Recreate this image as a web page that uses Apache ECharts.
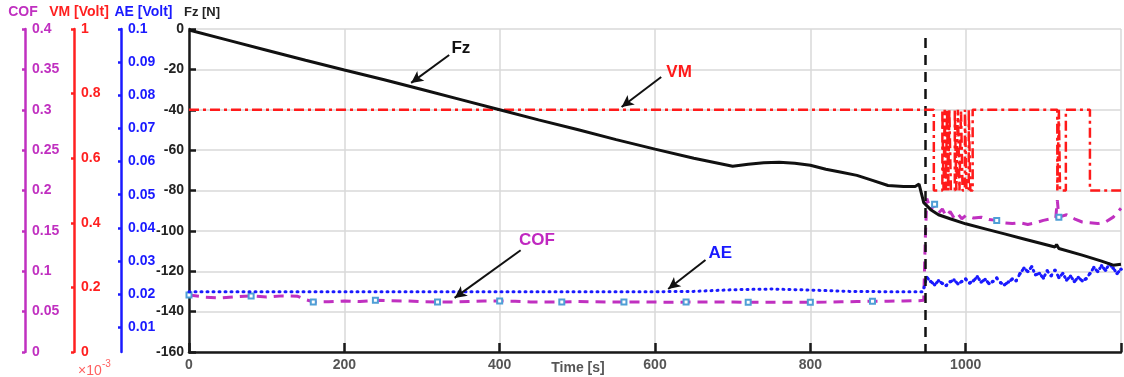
<!DOCTYPE html>
<html>
<head>
<meta charset="utf-8">
<script src="https://cdn.jsdelivr.net/npm/echarts@6/dist/echarts.min.js"></script>
<style>
html,body{margin:0;padding:0;background:#fff;}
#chart{width:1124px;height:377px;}
</style>
</head>
<body>
<div id="chart"></div>
<script>
// ---------- data (time [s], value) ----------
const xTicks = [0, 200, 400, 600, 800, 1000];
const fzTicks = [0, -20, -40, -60, -80, -100, -120, -140, -160];
const aeTicks = [0.01, 0.02, 0.03, 0.04, 0.05, 0.06, 0.07, 0.08, 0.09, 0.1];
const vmTicks = [0, 0.2, 0.4, 0.6, 0.8, 1];
const cofTicks = [0, 0.05, 0.1, 0.15, 0.2, 0.25, 0.3, 0.35, 0.4];

const fzData = [[0,-0.5],[50,-5.5],[100,-10.5],[150,-15.5],[200,-20.3],[250,-25],[300,-30],[350,-35],[400,-40],
  [450,-45],[500,-49.8],[550,-54.8],[600,-59.5],[650,-64],[700,-68],[720,-67],[740,-66.3],[760,-66],[780,-66.5],
  [800,-67.5],[820,-69.5],[840,-71],[860,-72.5],[880,-75],[900,-77.5],[920,-78],[935,-78],[940,-76.8],[946,-86],
  [955,-89.5],[965,-92],[980,-94],[1000,-96.5],[1025,-99],[1050,-101.5],[1075,-104],[1100,-106.5],[1115,-108],
  [1117,-106.8],[1120,-108.7],[1150,-112],[1175,-115],[1190,-117],[1200,-116.5]];

const vmData = [[0,0.75],[959,0.5],[970,0.75],[971.5,0.5],[973,0.75],[974.5,0.5],[976,0.75],[977.5,0.5],[979,0.75],
  [981,0.5],[986,0.75],[988,0.5],[990,0.75],[992,0.5],[994,0.75],[996,0.5],[999,0.75],[1001,0.5],[1004,0.75],
  [1006,0.5],[1009,0.75],[1118,0.5],[1120,0.75],[1121.5,0.5],[1129,0.75],[1160,0.5],[1200,0.5]];

const aeData = [[0,0.0207],[50,0.0207],[100,0.0207],[150,0.0207],[200,0.0207],[250,0.0207],[300,0.0207],[350,0.0207],
  [400,0.0207],[450,0.0207],[500,0.0207],[550,0.0207],[600,0.0207],[650,0.0208],[700,0.0213],[750,0.0215],[800,0.0212],
  [850,0.0208],[900,0.0207],[945,0.0207],[948,0.0235],
  [950,0.0250],[955,0.0238],[960,0.0228],[965,0.0240],[970,0.0232],[975,0.0226],[980,0.0237],[985,0.0242],[990,0.0231],
  [995,0.0238],[1000,0.0245],[1005,0.0233],[1010,0.0240],[1015,0.0252],[1020,0.0236],[1025,0.0244],[1030,0.0232],
  [1035,0.0238],[1040,0.0248],[1045,0.0234],[1050,0.0228],[1055,0.0236],[1060,0.0245],[1065,0.0240],[1070,0.0262],
  [1075,0.0278],[1080,0.0268],[1085,0.0282],[1090,0.0258],[1095,0.0262],[1100,0.0248],[1105,0.0270],[1110,0.0255],
  [1115,0.0272],[1120,0.0250],[1125,0.0262],[1130,0.0242],[1135,0.0254],[1140,0.0238],[1145,0.0250],[1150,0.0240],
  [1155,0.0246],[1160,0.0262],[1165,0.0280],[1170,0.0268],[1175,0.0285],[1180,0.0272],[1185,0.0290],[1190,0.0278],
  [1195,0.0262],[1200,0.0275]];

const cofData = [[0,0.0705],[20,0.068],[40,0.067],[60,0.0685],[80,0.0695],[100,0.068],[120,0.0695],[140,0.069],
  [150,0.065],[160,0.062],[180,0.0622],[200,0.0632],[220,0.0625],[240,0.064],[260,0.0635],[280,0.0632],[300,0.0622],
  [320,0.062],[340,0.0618],[360,0.0626],[380,0.0632],[400,0.0632],[420,0.0628],[440,0.062],[460,0.0618],[480,0.062],
  [500,0.0625],[520,0.0622],[540,0.062],[560,0.0618],[580,0.062],[600,0.0618],[620,0.0616],[640,0.0618],[660,0.0618],
  [680,0.062],[700,0.0618],[720,0.0616],[740,0.0615],[760,0.0616],[780,0.0615],[800,0.0615],[820,0.0618],[840,0.0622],
  [860,0.0625],[880,0.0628],[900,0.063],[920,0.0632],[940,0.0635],[946,0.064],
  [948,0.14],[950,0.19],[955,0.176],[960,0.183],[965,0.172],[970,0.177],[975,0.168],[980,0.174],[985,0.166],[990,0.171],
  [995,0.165],[1000,0.169],[1010,0.166],[1020,0.167],[1030,0.164],[1040,0.163],[1050,0.16],[1060,0.159],[1070,0.16],
  [1080,0.158],[1090,0.16],[1100,0.163],[1110,0.165],[1116,0.166],[1118,0.188],[1120,0.167],[1130,0.17],[1140,0.165],
  [1150,0.161],[1160,0.16],[1170,0.159],[1180,0.161],[1190,0.167],[1200,0.178]];

const eventTime = 948;
const markerEvery = 80;

// annotations: [label, textPos, arrowTail, arrowHead, colour] in (time, Fz) coordinates
const notes = [
  ['Fz',  [350,-9.4],   [335,-12.9],  [286,-26.7],  '#111111'],
  ['VM',  [631,-21.3],  [608,-23.8],  [557,-38.6],  '#ff1a1a'],
  ['COF', [448,-104.5], [427,-109.6], [342,-133.2], '#c028c0'],
  ['AE',  [684,-111],   [665,-114.4], [617,-128.8], '#1a1aff']
];

// ---------- styling ----------
const FONT = '"Liberation Sans", Arial, sans-serif';
const C_COF = '#c030c0', C_VM = '#ff1a1a', C_AE = '#1a1aff', C_FZ = '#111111';
const GRID = '#d8d8d8';

function sideAxis(color, offset, min, max, ticks, interval) {
  const ax = {
    type: 'value', position: 'left', offset: offset, min: min, max: max,
    axisLine: {show: true, onZero: false, lineStyle: {color: color, width: 2.5}},
    axisTick: {show: true, inside: false, length: 3, lineStyle: {color: color, width: 2.5}},
    axisLabel: {inside: true, margin: 7, color: color, fontWeight: 'bold', fontSize: 14, fontFamily: FONT},
    splitLine: {show: false}
  };
  if (interval) { ax.interval = interval; }
  else { ax.axisLabel.customValues = ticks; ax.axisTick.customValues = ticks; }
  return ax;
}

const chart = echarts.init(document.getElementById('chart'), null, {renderer: 'canvas'});

const option = {
  animation: false,
  backgroundColor: '#ffffff',
  grid: {left: 189, right: 0, top: 29, bottom: 25},
  xAxis: {
    type: 'value', min: 0, max: 1200, interval: 200,
    axisLine: {show: true, onZero: false, lineStyle: {color: '#1a1a1a', width: 2.5}},
    axisTick: {show: true, inside: true, length: 9, lineStyle: {color: '#1a1a1a', width: 2.5}},
    axisLabel: {color: '#555', fontWeight: 'bold', fontSize: 14, fontFamily: FONT, margin: 6,
      formatter: v => (xTicks.indexOf(v) >= 0 ? String(v) : '')},
    splitLine: {show: true, lineStyle: {color: GRID, width: 1.5}}
  },
  yAxis: [
    {
      type: 'value', position: 'left', offset: 0, min: -160, max: 0, interval: 20,
      axisLine: {show: true, onZero: false, lineStyle: {color: '#1a1a1a', width: 2.5}},
      axisTick: {show: true, inside: true, length: 7, lineStyle: {color: '#1a1a1a', width: 2.5}},
      axisLabel: {color: '#222', fontWeight: 'bold', fontSize: 14, fontFamily: FONT, margin: 5,
        formatter: v => (fzTicks.indexOf(v) >= 0 ? String(v) : '')},
      splitLine: {show: true, lineStyle: {color: GRID, width: 1.5}}
    },
    sideAxis(C_AE, 68, 0.0025, 0.1, aeTicks, null),
    sideAxis('#ff2020', 115, 0, 1, vmTicks, 0.2),
    sideAxis(C_COF, 164, 0, 0.4, cofTicks, 0.05)
  ],
  series: [
    {
      name: 'COF', type: 'line', yAxisIndex: 3, data: cofData,
      symbol: 'emptyRect', showAllSymbol: true,
      symbolSize: (v) => (v[0] % markerEvery === 0 && v[0] < 1200 ? 5 : 0),
      itemStyle: {color: '#4f9fd6', borderWidth: 1},
      lineStyle: {color: C_COF, width: 3, type: [10, 7]},
      z: 3
    },
    {
      name: 'AE', type: 'line', yAxisIndex: 1, data: aeData,
      symbol: 'circle', showAllSymbol: true,
      symbolSize: (v) => (v[0] > eventTime ? 3.5 : 0),
      itemStyle: {color: C_AE, borderWidth: 0},
      lineStyle: {color: C_AE, width: 3, type: [1, 5], cap: 'round'},
      z: 4
    },
    {
      name: 'VM', type: 'line', yAxisIndex: 2, data: vmData, step: 'end', showSymbol: false,
      lineStyle: {color: C_VM, width: 2.5, type: [10, 4, 3, 4]},
      z: 5
    },
    {
      name: 'Fz', type: 'line', yAxisIndex: 0, data: fzData, showSymbol: false,
      lineStyle: {color: C_FZ, width: 3},
      z: 6,
      markLine: {
        silent: true, animation: false,
        label: {show: false},
        symbol: ['none', 'arrow'], symbolSize: [9, 12],
        data: [
          [{coord: [eventTime, -4.5], symbol: 'none', lineStyle: {color: '#111', width: 2.5, type: [10, 7]}},
           {coord: [eventTime, -160], symbol: 'none'}]
        ].concat(notes.map(n => [
          {coord: n[2], symbol: 'none', lineStyle: {color: '#111', width: 2, type: 'solid'}, itemStyle: {color: '#111'}},
          {coord: n[3], symbol: 'arrow', itemStyle: {color: '#111'}}
        ]))
      },
      markPoint: {
        silent: true, animation: false,
        symbol: 'circle', symbolSize: 1, itemStyle: {color: 'rgba(0,0,0,0)'},
        data: notes.map(n => ({
          coord: n[1],
          label: {show: true, position: 'inside', formatter: n[0], color: n[4],
            fontWeight: 'bold', fontSize: 17, fontFamily: FONT}
        }))
      }
    }
  ],
  graphic: [
    {type: 'text', x: 23, y: 12, style: {text: 'COF', fill: C_COF, font: 'bold 14px ' + FONT, align: 'center', verticalAlign: 'middle'}},
    {type: 'text', x: 79, y: 12, style: {text: 'VM [Volt]', fill: '#ff2020', font: 'bold 14px ' + FONT, align: 'center', verticalAlign: 'middle'}},
    {type: 'text', x: 143.5, y: 12, style: {text: 'AE [Volt]', fill: C_AE, font: 'bold 14px ' + FONT, align: 'center', verticalAlign: 'middle'}},
    {type: 'text', x: 202, y: 12, style: {text: 'Fz [N]', fill: '#222', font: 'bold 13px ' + FONT, align: 'center', verticalAlign: 'middle'}},
    {type: 'text', x: 578, y: 368, style: {text: 'Time [s]', fill: '#555', font: 'bold 14px ' + FONT, align: 'center', verticalAlign: 'middle'}},
    {type: 'text', x: 78, y: 371, style: {text: '×10', fill: '#ff6060', font: '14px ' + FONT, align: 'left', verticalAlign: 'middle'}},
    {type: 'text', x: 102, y: 364, style: {text: '-3', fill: '#ff6060', font: '10px ' + FONT, align: 'left', verticalAlign: 'middle'}}
  ]
};

chart.setOption(option);
</script>
</body>
</html>
